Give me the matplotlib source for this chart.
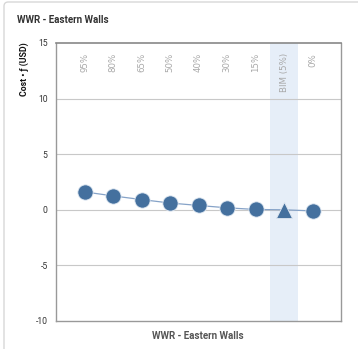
import matplotlib
matplotlib.use("Agg")
import matplotlib.pyplot as plt
from matplotlib.patches import FancyBboxPatch
from matplotlib.transforms import blended_transform_factory

categories = ["95%", "80%", "65%", "50%", "40%", "30%", "15%", "BIM (5%)", "0%"]
values = [1.61, 1.25, 0.92, 0.61, 0.39, 0.18, 0.03, 0.0, -0.10]
highlight = "BIM (5%)"
y_ticks = [-10, -5, 0, 5, 10, 15]
title = "WWR - Eastern Walls"
x_label = "WWR - Eastern Walls"
y_label = "Cost \u2022 \u0192 (USD)"

W, H = 358, 349
fig = plt.figure(figsize=(W / 100, H / 100), dpi=100)
fig.patch.set_facecolor("white")

cond = ["Roboto", "DejaVu Sans"]

# outer frame
frame = FancyBboxPatch((4 / W, -0.05), 1.2, 1.05 - 2 / H,
                       boxstyle="round,pad=0,rounding_size=0.012",
                       transform=fig.transFigure, facecolor="none",
                       edgecolor="#d8d8d8", linewidth=1.0)
fig.patches.append(frame)

ax = fig.add_axes([56 / W, 28 / H, 285 / W, 278 / H])
x = list(range(len(categories)))
ax.set_xlim(-1, len(categories))
ax.set_ylim(-10, 15)

hi = categories.index(highlight)
ax.axvspan(hi - 0.5, hi + 0.5, color="#e6eef8", zorder=0, lw=0)

for yt in y_ticks:
    if yt not in (-10, 15):
        ax.axhline(yt, color="#c8c8c8", lw=0.8, zorder=1)

ax.plot(x, values, color="#86a3c8", lw=0.9, zorder=2)
for xi, v, c in zip(x, values, categories):
    m = "^" if c == highlight else "o"
    ax.plot([xi], [v], marker=m, markersize=11, color="#44709e",
            markeredgecolor="#dfe8f2", markeredgewidth=0.6, zorder=3, ls="none")

trans = blended_transform_factory(ax.transData, ax.transAxes)
for xi, c in zip(x, categories):
    ax.text(xi, 1 - 10 / 278, c, transform=trans, rotation=90, ha="center",
            va="top", fontsize=6.2, color="#a8a8a8", family="DejaVu Sans")

ax.set_xticks([])
ax.set_yticks(y_ticks)
ax.set_yticklabels([str(t) for t in y_ticks], fontsize=6.2, color="#333333",
                   family=cond)
ax.tick_params(axis="y", length=0, pad=6)
for s in ["left", "right", "bottom"]:
    ax.spines[s].set_color("#999999")
    ax.spines[s].set_linewidth(1.0)
ax.spines["top"].set_color("#888888")
ax.spines["top"].set_linewidth(1.2)

fig.text(17 / W, 1 - 20 / H, title, fontsize=7, fontweight="bold",
         color="#333333", ha="left", va="center", family=cond)
fig.text(24 / W, 1 - 42 / H, y_label, fontsize=6.3, fontweight="bold",
         color="#111111", rotation=90, ha="center", va="top", family=cond)
fig.text(198 / W, 1 - 336 / H, x_label, fontsize=7, fontweight="bold",
         color="#555555", ha="center", va="center", family=cond)

fig.savefig("out.png", dpi=100, facecolor="white")
